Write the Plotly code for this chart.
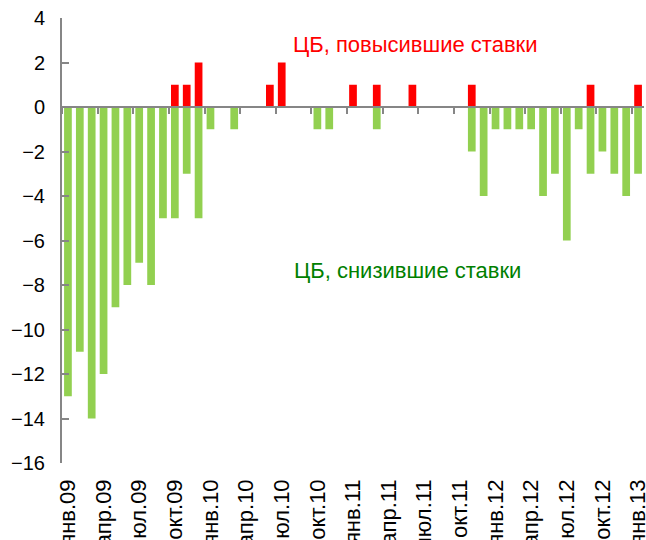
import plotly.graph_objects as go

month_names = ["янв", "фев", "мар", "апр", "май", "июн", "июл", "авг", "сен", "окт", "ноя", "дек"]
years = ["09", "10", "11", "12", "13"]
categories = [f"{m}.{y}" for y in years for m in month_names][:49]

raised = [0, 0, 0, 0, 0, 0, 0, 0, 0, 1, 1, 2,
          0, 0, 0, 0, 0, 1, 2, 0, 0, 0, 0, 0,
          1, 0, 1, 0, 0, 1, 0, 0, 0, 0, 1, 0,
          0, 0, 0, 0, 0, 0, 0, 0, 1, 0, 0, 0,
          1]
lowered = [-13, -11, -14, -12, -9, -8, -7, -8, -5, -5, -3, -5,
           -1, 0, -1, 0, 0, 0, 0, 0, 0, -1, -1, 0,
           0, 0, -1, 0, 0, 0, 0, 0, 0, 0, -2, -4,
           -1, -1, -1, -1, -4, -3, -6, -1, -3, -2, -3, -4,
           -3]
tick_labels = categories[::3]
y_ticks = list(range(-16, 5, 2))

FONT = "Liberation Sans, Arial, sans-serif"
AX = "#868686"

fig = go.Figure()
fig.add_trace(go.Bar(x=categories, y=raised, marker=dict(color="#FF0000", line=dict(width=0)),
                     width=0.65, xaxis="x", yaxis="y", showlegend=False))
fig.add_trace(go.Bar(x=categories, y=lowered, marker=dict(color="#92D050", line=dict(width=0)),
                     width=0.65, xaxis="x2", yaxis="y", showlegend=False))

fig.update_layout(
    width=646, height=540,
    margin=dict(l=62, r=2, t=18, b=77),
    paper_bgcolor="white", plot_bgcolor="white",
    font=dict(family=FONT, size=20, color="black"),
    barmode="overlay",
    xaxis=dict(type="category", categoryorder="array", categoryarray=categories,
               range=[-0.5, 48.5], tickmode="array", tickvals=tick_labels, ticktext=tick_labels,
               tickangle=-90, showline=False, showgrid=False, zeroline=False, ticks="",
               ticklabelstandoff=11, tickfont=dict(size=22), automargin=False),
    xaxis2=dict(type="category", categoryorder="array", categoryarray=categories,
                matches="x", overlaying="x", anchor="free", position=0.8,
                showticklabels=False, tickson="boundaries", tickmode="linear", tick0=0, dtick=3,
                ticks="outside", ticklen=6, tickwidth=1.5, tickcolor=AX, automargin=False,
                showline=True, linecolor=AX, linewidth=2, showgrid=False, zeroline=False),
    yaxis=dict(range=[-16, 4], tickmode="array", tickvals=y_ticks, ticks="inside", ticklen=7,
               tickwidth=1.5, tickcolor=AX, showline=True, linecolor=AX, linewidth=2,
               showgrid=False, zeroline=False, ticklabelstandoff=11, tickfont=dict(size=20),
               automargin=False),
    annotations=[
        dict(text="ЦБ, повысившие ставки", x=(415.5 - 62) / 582, y=(463 - 30) / 445,
             xref="paper", yref="paper",
             showarrow=False, font=dict(color="#FF0000", size=22, family=FONT)),
        dict(text="ЦБ, снизившие ставки", x=(522.5 - 62) / 582, y=(463 - 270) / 445,
             xref="paper", yref="paper",
             showarrow=False, font=dict(color="#008000", size=22, family=FONT)),
    ],
)

fig.write_html("out.html", config={"displayModeBar": False},
               post_script="document.body.style.margin='0';document.body.style.overflow='hidden';")
